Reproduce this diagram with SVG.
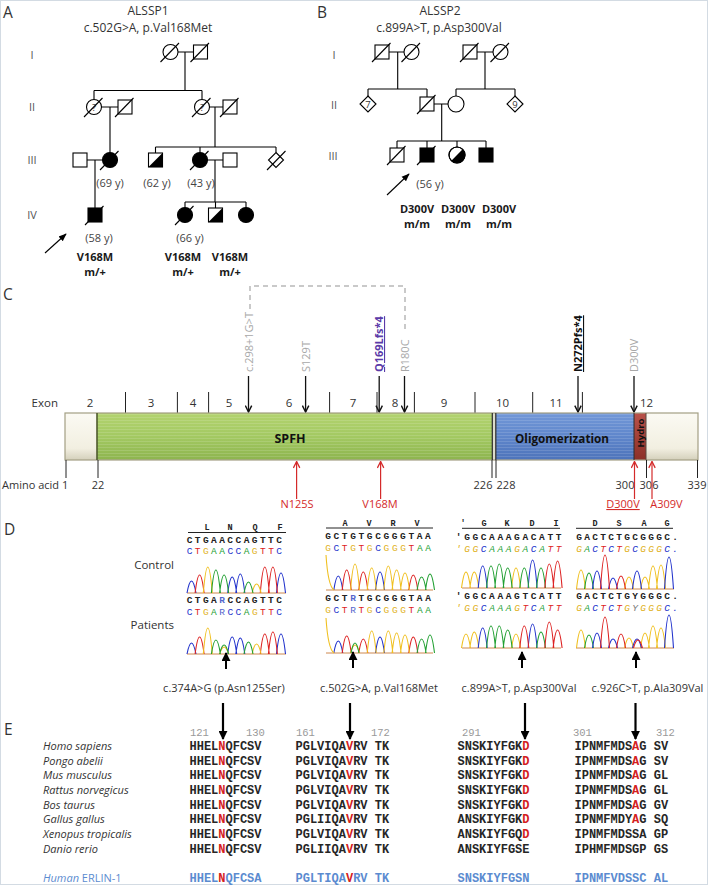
<svg xmlns="http://www.w3.org/2000/svg" width="708" height="885" viewBox="0 0 708 885">
<defs>
<style>
.t{font-family:'Open Sans','DejaVu Sans',sans-serif;fill:#333}
.pl{font-size:15.5px;fill:#333}
.ttl{font-size:12px;text-anchor:middle;fill:#333}
.gen{font-size:11px;fill:#555;text-anchor:middle}
.age{font-size:11px;fill:#444;text-anchor:middle}
.gt{font-size:11px;font-weight:bold;fill:#1a1a1a;text-anchor:middle}
.s{fill:#fff;stroke:#000;stroke-width:1.1}
.f{fill:#000;stroke:#000;stroke-width:1.1}
.l{stroke:#000;stroke-width:1.1;fill:none}
.in{font-size:9.5px;text-anchor:middle;fill:#333}
.ex{font-size:11.5px;text-anchor:middle;fill:#333}
.aa{font-size:11px;text-anchor:middle;fill:#333}
.tick{stroke:#222;stroke-width:1}
.gl{font-size:11px;fill:#a8a8a8}
.rl{font-size:11px;fill:#d42a2a;text-anchor:middle}
.ra{stroke:#d42a2a;stroke-width:1.2;fill:none}
.ba{stroke:#111;stroke-width:1.3;fill:none}
.sq{font-family:'Liberation Mono','DejaVu Sans Mono',monospace;font-weight:bold;font-size:9.5px;fill:#222}
.hd{font-family:'Liberation Mono','DejaVu Sans Mono',monospace;font-weight:bold;font-size:8.5px;fill:#222;text-anchor:middle}
.b{fill:#2233cc}.r{fill:#dd2222}.y{fill:#e0b020}.g{fill:#22a033}.m{fill:#5566cc}.k{fill:#777}
.pb{stroke:#2233cc}.pr{stroke:#dd2222}.py{stroke:#f0c020}.pg{stroke:#22a033}
.pk{fill:none;stroke-width:1.1}
.bl{stroke:#c87a3a;stroke-width:0.9}
.hl{stroke:#222;stroke-width:1}
.cap{font-size:11px;text-anchor:middle;fill:#333}
.sp{font-size:11px;font-style:italic;fill:#333}
.al{font-family:'Liberation Mono','DejaVu Sans Mono',monospace;font-weight:bold;font-size:12px;fill:#262626}
.num{font-family:'Liberation Mono','DejaVu Sans Mono',monospace;font-size:10.5px;fill:#999}
.red{fill:#d42020}
.blu{fill:#5b8bd0}
</style>
<marker id="mP" viewBox="0 0 10 10" refX="9" refY="5" markerWidth="8" markerHeight="8" markerUnits="userSpaceOnUse" orient="auto"><path d="M0,1 L10,5 L0,9 z" fill="#000"/></marker>
<marker id="mA" viewBox="0 0 10 10" refX="9" refY="5" markerWidth="8" markerHeight="8" markerUnits="userSpaceOnUse" orient="auto"><path d="M1,1 L9,5 L1,9" fill="none" stroke="#111" stroke-width="1.8"/></marker>
<marker id="mR" viewBox="0 0 10 10" refX="9" refY="5" markerWidth="8" markerHeight="8" markerUnits="userSpaceOnUse" orient="auto"><path d="M1,1 L9,5 L1,9" fill="none" stroke="#d42a2a" stroke-width="1.6"/></marker>
<marker id="mB" viewBox="0 0 10 10" refX="9" refY="5" markerWidth="9" markerHeight="9" markerUnits="userSpaceOnUse" orient="auto"><path d="M0,0 L10,5 L0,10 z" fill="#000"/></marker>
<linearGradient id="gw" x1="0" y1="0" x2="0" y2="1"><stop offset="0" stop-color="#fbfaf3"/><stop offset="0.75" stop-color="#f2efe1"/><stop offset="1" stop-color="#d4d0bb"/></linearGradient>
<linearGradient id="gg" x1="0" y1="0" x2="0" y2="1"><stop offset="0" stop-color="#b3d36f"/><stop offset="0.5" stop-color="#a3c962"/><stop offset="1" stop-color="#8db44e"/></linearGradient>
<linearGradient id="gb" x1="0" y1="0" x2="0" y2="1"><stop offset="0" stop-color="#7298d8"/><stop offset="0.5" stop-color="#5f86cb"/><stop offset="1" stop-color="#4d73ba"/></linearGradient>
<linearGradient id="gh" x1="0" y1="0" x2="0" y2="1"><stop offset="0" stop-color="#b9524a"/><stop offset="1" stop-color="#8c3028"/></linearGradient>
<pattern id="st" width="4" height="3" patternUnits="userSpaceOnUse"><rect width="4" height="1" fill="#ffffff" fill-opacity="0.13"/></pattern>
</defs>

<rect x="0" y="0" width="708" height="885" fill="#fff"/>
<rect x="0.5" y="0.5" width="707" height="884" fill="none" stroke="#d3dbe3"/>

<!-- Panel labels -->
<g class="t">
<text class="pl" x="3" y="18">A</text>
<text class="pl" x="317" y="18">B</text>
<text class="pl" x="3" y="300">C</text>
<text class="pl" x="4" y="535">D</text>
<text class="pl" x="4" y="735">E</text>
</g>

<!-- ===== Panel A ===== -->
<g id="panelA-text" class="t">
<text class="ttl" x="148" y="15">ALSSP1</text>
<text class="ttl" x="148" y="31.5">c.502G&gt;A, p.Val168Met</text>
<text class="gen" x="32" y="59">I</text>
<text class="gen" x="32" y="111">II</text>
<text class="gen" x="32" y="164">III</text>
<text class="gen" x="32" y="219">IV</text>
<text class="age" x="110" y="187">(69 y)</text>
<text class="age" x="157" y="187">(62 y)</text>
<text class="age" x="201" y="187">(43 y)</text>
<text class="age" x="99" y="242">(58 y)</text>
<text class="age" x="190" y="242">(66 y)</text>
<text class="gt" x="95" y="261">V168M</text>
<text class="gt" x="95" y="276">m/+</text>
<text class="gt" x="183" y="261">V168M</text>
<text class="gt" x="183" y="276">m/+</text>
<text class="gt" x="230" y="261">V168M</text>
<text class="gt" x="230" y="276">m/+</text>
</g>
<g id="connectorsA" class="l">
<path d="M178,52 H193.5 M185,52 V90.5 M94,90.5 H202 M94,90.5 V99.5 M202,90.5 V99.5"/>
<path d="M101.5,107 H118 M110,107 V152.5 M209.5,107 H223 M215,107 V147"/>
<path d="M155.5,147 H276 M155.5,147 V153 M200,147 V152.5 M276,147 V152.5"/>
<path d="M87,160 H102.5 M95,160 V208 M207.5,160 H223 M215,160 V202"/>
<path d="M185,202 H246 M185,202 V207.5 M215.5,202 V208 M246,202 V207.5"/>
<line x1="45" y1="253" x2="66" y2="234" stroke="#000" stroke-width="1.1" marker-end="url(#mP)"/>
</g>
<g id="A-I1"><circle class="s" cx="170.5" cy="52" r="7.5"/><line class="l" x1="160.5" y1="62" x2="179" y2="43"/></g>
<g id="A-I2"><rect class="s" x="193.5" y="45" width="14" height="14"/><line class="l" x1="190.5" y1="62" x2="209" y2="43"/></g>
<g id="A-II1"><circle class="s" cx="94" cy="107" r="7.5"/><text class="t in" x="94" y="110.5">?</text><line class="l" x1="84" y1="117" x2="102.5" y2="98"/></g>
<g id="A-II2"><rect class="s" x="118" y="100" width="14" height="14"/><line class="l" x1="115" y1="117" x2="133.5" y2="98"/></g>
<g id="A-II3"><circle class="s" cx="202" cy="107" r="7.5"/><text class="t in" x="202" y="110.5">?</text><line class="l" x1="192" y1="117" x2="210.5" y2="98"/></g>
<g id="A-II4"><rect class="s" x="223" y="100" width="14" height="14"/><line class="l" x1="220" y1="117" x2="238.5" y2="98"/></g>
<g id="A-III1"><rect class="s" x="73" y="153" width="14" height="14"/></g>
<g id="A-III2"><circle class="f" cx="110" cy="160" r="7.5"/><line class="l" x1="100" y1="170" x2="118.5" y2="151"/></g>
<g id="A-III3"><rect class="s" x="148.5" y="153" width="14" height="14"/><path d="M162.5,153 L162.5,167 L148.5,167 Z" fill="#000"/></g>
<g id="A-III4"><circle class="f" cx="200" cy="160" r="7.5"/><line class="l" x1="190" y1="170" x2="208.5" y2="151"/></g>
<g id="A-III5"><rect class="s" x="223" y="153" width="14" height="14"/></g>
<g id="A-III6"><path class="s" d="M276,152.5 L283.5,160 L276,167.5 L268.5,160 Z"/><line class="l" x1="267" y1="170" x2="285.5" y2="151"/></g>
<g id="A-IV1"><rect class="f" x="88" y="208" width="14" height="14"/><line class="l" x1="85" y1="225" x2="103.5" y2="206"/></g>
<g id="A-IV2"><circle class="f" cx="185" cy="215" r="7.5"/><line class="l" x1="175" y1="225" x2="193.5" y2="206"/></g>
<g id="A-IV3"><rect class="s" x="208.5" y="208" width="14" height="14"/><path d="M222.5,208 L222.5,222 L208.5,222 Z" fill="#000"/></g>
<g id="A-IV4"><circle class="f" cx="246" cy="215" r="7.5"/></g>

<!-- ===== Panel B ===== -->
<g id="panelB-text" class="t">
<text class="ttl" x="440" y="15">ALSSP2</text>
<text class="ttl" x="439" y="31.5">c.899A&gt;T, p.Asp300Val</text>
<text class="gen" x="334" y="59">I</text>
<text class="gen" x="334" y="109">II</text>
<text class="gen" x="333" y="160">III</text>
<text class="age" x="430" y="188">(56 y)</text>
<text class="gt" x="417" y="213">D300V</text>
<text class="gt" x="417" y="228">m/m</text>
<text class="gt" x="458" y="213">D300V</text>
<text class="gt" x="458" y="228">m/m</text>
<text class="gt" x="499" y="213">D300V</text>
<text class="gt" x="499" y="228">m/m</text>
</g>
<g id="connectorsB" class="l">
<path d="M389,52 H404 M397.7,52 V89 M368,89 H427 M368,89 V96 M427,89 V97"/>
<path d="M477,52 H493 M485,52 V89 M456,89 H515 M456,89 V96 M515,89 V96"/>
<path d="M434,104 H448 M441.7,104 V141 M397,141 H486 M397,141 V148 M427,141 V148 M457,141 V147 M486,141 V148"/>
<line x1="387" y1="195" x2="409" y2="174" stroke="#000" stroke-width="1.1" marker-end="url(#mP)"/>
</g>
<g id="B-I1"><rect class="s" x="375" y="45" width="14" height="14"/><line class="l" x1="372" y1="62" x2="390.5" y2="43"/></g>
<g id="B-I2"><circle class="s" cx="411.5" cy="52" r="7.5"/><line class="l" x1="401.5" y1="62" x2="420" y2="43"/></g>
<g id="B-I3"><rect class="s" x="463" y="45" width="14" height="14"/><line class="l" x1="460" y1="62" x2="478.5" y2="43"/></g>
<g id="B-I4"><circle class="s" cx="500.5" cy="52" r="7.5"/><line class="l" x1="490.5" y1="62" x2="509" y2="43"/></g>
<g id="B-II1"><path class="s" d="M368,96 L376,104 L368,112 L360,104 Z"/><text class="t in" x="368" y="107.5">7</text></g>
<g id="B-II2"><rect class="s" x="420" y="97" width="14" height="14"/><line class="l" x1="417" y1="114" x2="435.5" y2="95"/></g>
<g id="B-II3"><circle class="s" cx="456" cy="104" r="8"/></g>
<g id="B-II4"><path class="s" d="M515,96 L523,104 L515,112 L507,104 Z"/><text class="t in" x="515" y="107.5">9</text></g>
<g id="B-III1"><rect class="s" x="390" y="148" width="14" height="14"/><line class="l" x1="387" y1="165" x2="405.5" y2="146"/></g>
<g id="B-III2"><rect class="f" x="420" y="148" width="14" height="14"/><line class="l" x1="417" y1="165" x2="435.5" y2="146"/></g>
<g id="B-III3"><circle class="s" cx="457" cy="155" r="8"/><path d="M451.34,160.66 A8,8 0 0 0 462.66,149.34 Z" fill="#000"/><circle cx="457" cy="155" r="8" fill="none" stroke="#000" stroke-width="1.1"/></g>
<g id="B-III4"><rect class="f" x="479" y="148" width="14" height="14"/></g>

<!-- ===== Panel C ===== -->
<g id="panelC-dashed"><path d="M250,309 V286 H405 V333" fill="none" stroke="#b8b8b8" stroke-width="1.5" stroke-dasharray="5 4"/></g>
<g id="panelC-toplabels" class="t">
<text class="gl" transform="translate(252.5,372) rotate(-90)">c.298+1G&gt;T</text>
<text class="gl" transform="translate(309.6,372) rotate(-90)">S129T</text>
<text class="gl" transform="translate(383,372) rotate(-90)" style="fill:#5b3aa8;font-weight:bold;text-decoration:underline">Q169Lfs*4</text>
<text class="gl" transform="translate(408.5,372) rotate(-90)">R180C</text>
<text class="gl" transform="translate(582,372) rotate(-90)" style="fill:#111;font-weight:bold;text-decoration:underline">N272Pfs*4</text>
<text class="gl" transform="translate(638,372) rotate(-90)">D300V</text>
</g>
<g id="panelC-arrows-top" class="ba">
<line x1="248.5" y1="376" x2="248.5" y2="412" marker-end="url(#mA)"/>
<line x1="305.6" y1="376" x2="305.6" y2="412" marker-end="url(#mA)"/>
<line x1="379.2" y1="376" x2="379.2" y2="412" marker-end="url(#mA)"/>
<line x1="404.5" y1="376" x2="404.5" y2="412" marker-end="url(#mA)"/>
<line x1="578" y1="376" x2="578" y2="412" marker-end="url(#mA)"/>
<line x1="634" y1="376" x2="634" y2="412" marker-end="url(#mA)"/>
</g>
<g id="exon-row" class="t">
<text x="31.6" y="407" style="font-size:11.5px;fill:#333">Exon</text>
<text class="ex" x="90" y="407">2</text>
<text class="ex" x="151" y="407">3</text>
<text class="ex" x="193" y="407">4</text>
<text class="ex" x="229" y="407">5</text>
<text class="ex" x="289" y="407">6</text>
<text class="ex" x="353" y="407">7</text>
<text class="ex" x="395" y="407">8</text>
<text class="ex" x="444" y="407">9</text>
<text class="ex" x="502.5" y="407">10</text>
<text class="ex" x="556" y="407">11</text>
<text class="ex" x="646.5" y="407">12</text>
<path class="tick" d="M125.5,392 V413 M177.4,392 V413 M208.6,392 V413 M329.6,392 V413 M377,392 V413 M414.4,392 V413 M475,392 V413 M532.7,392 V413 M582.4,392 V413"/>
</g>
<g id="protein">
<rect x="65" y="413" width="32" height="47" fill="url(#gw)"/>
<rect x="97" y="413" width="395" height="47" fill="url(#gg)"/>
<rect x="97" y="413" width="395" height="47" fill="url(#st)"/>
<rect x="492" y="413" width="4" height="47" fill="#dcdccc"/>
<rect x="496" y="413" width="138" height="47" fill="url(#gb)"/>
<rect x="496" y="413" width="138" height="47" fill="url(#st)"/>
<rect x="634" y="413" width="12" height="47" fill="url(#gh)"/>
<rect x="646" y="413" width="52" height="47" fill="url(#gw)"/>
<rect x="65" y="413" width="633" height="47" fill="none" stroke="#a39f84" stroke-width="1.2"/>
<path d="M97,413 V460" stroke="#4f5a2e" stroke-width="1.6"/>
<path d="M492.3,413 V460 M495.8,413 V460" stroke="#2c2c2c" stroke-width="1.2"/>
<path d="M634,413 V460" stroke="#2c2c2c" stroke-width="1"/>
<path d="M646,413 V460" stroke="#5a4a40" stroke-width="1"/>
<text class="t" x="290" y="443" style="font-size:12.5px;font-weight:bold;fill:#111;text-anchor:middle">SPFH</text>
<text class="t" x="515" y="443" textLength="94" lengthAdjust="spacingAndGlyphs" style="font-size:12px;font-weight:bold;fill:#111">Oligomerization</text>
<text class="t" transform="translate(643.5,433) rotate(-90)" style="font-size:9.5px;font-weight:bold;fill:#111;text-anchor:middle">Hydro</text>
</g>
<g id="aa-row" class="t">
<path class="tick" d="M66,460 V478 M98,460 V478 M492,460 V478 M496,460 V478 M646.5,460 V478 M697.5,460 V478"/>
<text x="2" y="489" style="font-size:11px;fill:#333">Amino acid 1</text>
<text class="aa" x="98" y="489">22</text>
<text class="aa" x="483" y="489">226</text>
<text class="aa" x="506" y="489">228</text>
<text class="aa" x="625" y="489">300</text>
<text class="aa" x="649" y="489">306</text>
<text class="aa" x="697" y="489">339</text>
</g>
<g id="panelC-arrows-bottom" class="ra">
<line x1="296.6" y1="499" x2="296.6" y2="461.5" marker-end="url(#mR)"/>
<line x1="380.6" y1="499" x2="380.6" y2="461.5" marker-end="url(#mR)"/>
<line x1="634.5" y1="499" x2="634.5" y2="461.5" marker-end="url(#mR)"/>
<line x1="652" y1="499" x2="652" y2="461.5" marker-end="url(#mR)"/>
</g>
<g id="panelC-redlabels" class="t">
<text class="rl" x="297" y="508">N125S</text>
<text class="rl" x="380" y="508">V168M</text>
<text class="rl" x="623" y="508" style="text-decoration:underline">D300V</text>
<text class="rl" x="666.5" y="508">A309V</text>
</g>

<!-- ===== Panel D ===== -->
<g id="panelD-labels" class="t">
<text x="174" y="569" style="font-size:11.5px;text-anchor:end;fill:#333">Control</text>
<text x="174" y="629" style="font-size:11.5px;text-anchor:end;fill:#333">Patients</text>
<text class="cap" x="224" y="692">c.374A&gt;G (p.Asn125Ser)</text>
<text class="cap" x="379" y="692">c.502G&gt;A, p.Val168Met</text>
<text class="cap" x="519" y="692">c.899A&gt;T, p.Asp300Val</text>
<text class="cap" x="647.5" y="692">c.926C&gt;T, p.Ala309Val</text>
</g>

<g id="chrom1">
<line class="hl" x1="188" y1="532.5" x2="286" y2="532.5"/>
<text class="hd" x="207" y="530">L</text><text class="hd" x="230" y="530">N</text><text class="hd" x="255" y="530">Q</text><text class="hd" x="280" y="530">F</text>
<text class="sq" x="186.65" y="543" style="letter-spacing:2.44px">CTGAACCAGTTC</text>
<text class="sq" x="186.65" y="554" style="letter-spacing:2.44px;font-weight:normal"><tspan class="b">C</tspan><tspan class="r">T</tspan><tspan class="y">G</tspan><tspan class="g">AA</tspan><tspan class="b">CC</tspan><tspan class="g">A</tspan><tspan class="y">G</tspan><tspan class="r">TT</tspan><tspan class="b">C</tspan></text>
<line class="bl" x1="187" y1="593" x2="286" y2="593"/>
<path class="pk pb" d="M187,593 Q191.5,569 196,593 M227.7,593 Q232.2,561 236.7,593 M235.8,593 Q240.3,555 244.8,593 M276.5,593 Q281,553 285.5,593"/>
<path class="pk pr" d="M195.1,593 Q199.6,557 204.1,593 M260.3,593 Q264.8,541 269.3,593 M268.4,593 Q272.9,541 277.4,593"/>
<path class="pk py" d="M203.3,593 Q207.8,541 212.3,593 M252.1,593 Q256.6,575 261.1,593"/>
<path class="pk pg" d="M211.4,593 Q215.9,547 220.4,593 M219.6,593 Q224.1,557 228.6,593 M244,593 Q248.5,571 253,593"/>
<text class="sq" x="186.65" y="603" style="letter-spacing:2.44px">CTGA<tspan class="m">R</tspan>CCAGTTC</text>
<text class="sq" x="186.65" y="615" style="letter-spacing:2.44px;font-weight:normal"><tspan class="b">C</tspan><tspan class="r">T</tspan><tspan class="y">G</tspan><tspan class="g">A</tspan><tspan class="m">R</tspan><tspan class="b">CC</tspan><tspan class="g">A</tspan><tspan class="y">G</tspan><tspan class="r">TT</tspan><tspan class="b">C</tspan></text>
<line class="bl" x1="187" y1="654" x2="286" y2="654"/>
<path class="pk pb" d="M187,654 Q191.5,632 196,654 M227.7,654 Q232.2,620 236.7,654 M235.8,654 Q240.3,622 244.8,654 M276.5,654 Q281,614 285.5,654"/>
<path class="pk pr" d="M195.1,654 Q199.6,620 204.1,654 M260.3,654 Q264.8,614 269.3,654 M268.4,654 Q272.9,610 277.4,654"/>
<path class="pk py" d="M203.3,654 Q207.8,602 212.3,654 M219.6,654 Q224.1,640 228.6,654 M252.1,654 Q256.6,634 261.1,654"/>
<path class="pk pg" d="M211.4,654 Q215.9,626 220.4,654 M219.6,654 Q224.1,636 228.6,654 M244,654 Q248.5,630 253,654"/>
<line x1="226" y1="669" x2="226" y2="653" stroke="#000" stroke-width="2" marker-end="url(#mB)"/>
</g>

<g id="chrom2">
<line class="hl" x1="326" y1="528" x2="433" y2="528"/>
<text class="hd" x="345" y="526">A</text><text class="hd" x="369" y="526">V</text><text class="hd" x="393" y="526">R</text><text class="hd" x="417" y="526">V</text>
<text class="sq" x="325.15" y="539" style="letter-spacing:2.63px">GCTGTGCGGGTAA</text>
<text class="sq" x="325.15" y="551" style="letter-spacing:2.63px;font-weight:normal"><tspan class="y">G</tspan><tspan class="b">C</tspan><tspan class="r">T</tspan><tspan class="y">G</tspan><tspan class="r">T</tspan><tspan class="y">G</tspan><tspan class="b">C</tspan><tspan class="y">GGG</tspan><tspan class="r">T</tspan><tspan class="g">AA</tspan></text>
<line class="bl" x1="326" y1="590" x2="433" y2="590"/>
<path class="pk pb" d="M333.8,590 Q338.3,562 342.8,590 M375.5,590 Q380,554 384.5,590"/>
<path class="pk pr" d="M342.2,590 Q346.7,550 351.2,590 M358.8,590 Q363.3,554 367.8,590 M408.8,590 Q413.3,560 417.8,590"/>
<path class="pk py" d="M326,555 Q328,586 334,590 M350.5,590 Q355,538 359.5,590 M367.2,590 Q371.7,546 376.2,590 M383.8,590 Q388.3,542 392.8,590 M392.1,590 Q396.6,550 401.1,590 M400.5,590 Q405,556 409.5,590"/>
<path class="pk pg" d="M417.1,590 Q421.6,564 426.1,590 M425.5,590 Q430,558 434.5,590"/>
<text class="sq" x="325.15" y="601" style="letter-spacing:2.63px">GCT<tspan class="m">R</tspan>TGCGGGTAA</text>
<text class="sq" x="325.15" y="613" style="letter-spacing:2.63px;font-weight:normal"><tspan class="y">G</tspan><tspan class="b">C</tspan><tspan class="r">T</tspan><tspan class="m">R</tspan><tspan class="r">T</tspan><tspan class="y">G</tspan><tspan class="b">C</tspan><tspan class="y">GGG</tspan><tspan class="r">T</tspan><tspan class="g">AA</tspan></text>
<line class="bl" x1="326" y1="653" x2="433" y2="653"/>
<path class="pk pb" d="M333.8,653 Q338.3,629 342.8,653 M375.5,653 Q380,621 384.5,653"/>
<path class="pk pr" d="M342.2,653 Q346.7,619 351.2,653 M358.8,653 Q363.3,625 367.8,653 M408.8,653 Q413.3,621 417.8,653"/>
<path class="pk py" d="M326,618 Q328,649 334,653 M350.5,653 Q355,637 359.5,653 M367.2,653 Q371.7,609 376.2,653 M383.8,653 Q388.3,609 392.8,653 M392.1,653 Q396.6,613 401.1,653 M400.5,653 Q405,617 409.5,653"/>
<path class="pk pg" d="M351,653 Q355,633 359,653 M417.1,653 Q421.6,625 426.1,653 M425.5,653 Q430,617 434.5,653"/>
<line x1="353" y1="668" x2="353" y2="652" stroke="#000" stroke-width="2" marker-end="url(#mB)"/>
</g>

<g id="chrom3">
<line class="hl" x1="462" y1="528.3" x2="560" y2="528.3"/>
<text class="hd" x="463" y="526">'</text><text class="hd" x="484" y="526">G</text><text class="hd" x="507" y="526">K</text><text class="hd" x="532" y="526">D</text><text class="hd" x="556" y="526">I</text>
<text class="sq" x="455.8" y="539.5" style="letter-spacing:2.63px">'GGCAAAGACATT</text>
<text class="sq" x="455.8" y="551.5" style="letter-spacing:2.63px;font-weight:normal;font-style:italic"><tspan class="y">'GG</tspan><tspan class="b">C</tspan><tspan class="g">AAA</tspan><tspan class="y">G</tspan><tspan class="g">A</tspan><tspan class="b">C</tspan><tspan class="g">A</tspan><tspan class="r">TT</tspan></text>
<line class="bl" x1="462" y1="588" x2="561" y2="588"/>
<path class="pk py" d="M461.5,588 Q466,556 470.5,588 M469.8,588 Q474.3,556 478.8,588 M511.5,588 Q516,548 520.5,588"/>
<path class="pk pb" d="M478.2,588 Q482.7,544 487.2,588 M528.1,588 Q532.6,532 537.1,588"/>
<path class="pk pg" d="M486.5,588 Q491,544 495.5,588 M494.8,588 Q499.3,540 503.8,588 M503.2,588 Q507.7,548 512.2,588 M519.8,588 Q524.3,548 528.8,588 M536.5,588 Q541,548 545.5,588"/>
<path class="pk pr" d="M544.8,588 Q549.3,540 553.8,588 M553.1,588 Q557.6,534 562.1,588"/>
<text class="sq" x="455.8" y="599" style="letter-spacing:2.63px">'GGCAAAGTCATT</text>
<text class="sq" x="455.8" y="611" style="letter-spacing:2.63px;font-weight:normal;font-style:italic"><tspan class="y">'GG</tspan><tspan class="b">C</tspan><tspan class="g">AAA</tspan><tspan class="y">G</tspan><tspan class="r">T</tspan><tspan class="b">C</tspan><tspan class="g">A</tspan><tspan class="r">TT</tspan></text>
<line class="bl" x1="462" y1="648" x2="561" y2="648"/>
<path class="pk py" d="M461.5,648 Q466,620 470.5,648 M469.8,648 Q474.3,616 478.8,648 M511.5,648 Q516,620 520.5,648"/>
<path class="pk pb" d="M478.2,648 Q482.7,608 487.2,648 M528.1,648 Q532.6,600 537.1,648"/>
<path class="pk pg" d="M486.5,648 Q491,604 495.5,648 M494.8,648 Q499.3,604 503.8,648 M503.2,648 Q507.7,612 512.2,648 M536.5,648 Q541,616 545.5,648"/>
<path class="pk pr" d="M519.8,648 Q524.3,604 528.8,648 M544.8,648 Q549.3,596 553.8,648 M553.1,648 Q557.6,612 562.1,648"/>
<line x1="522" y1="668" x2="522" y2="652" stroke="#000" stroke-width="2" marker-end="url(#mB)"/>
</g>

<g id="chrom4">
<line class="hl" x1="576" y1="528.3" x2="673" y2="528.3"/>
<text class="hd" x="595" y="526">D</text><text class="hd" x="619" y="526">S</text><text class="hd" x="644" y="526">A</text><text class="hd" x="667" y="526">G</text>
<text class="sq" x="576.15" y="539.5" style="letter-spacing:2.3px">GACTCTGCGGGC.</text>
<text class="sq" x="576.15" y="551.5" style="letter-spacing:2.3px;font-weight:normal;font-style:italic"><tspan class="y">G</tspan><tspan class="g">A</tspan><tspan class="b">C</tspan><tspan class="r">T</tspan><tspan class="b">C</tspan><tspan class="r">T</tspan><tspan class="y">G</tspan><tspan class="b">C</tspan><tspan class="y">GGG</tspan><tspan class="b">C.</tspan></text>
<line class="bl" x1="576" y1="589" x2="674" y2="589"/>
<path class="pk py" d="M576.5,589 Q581,551 585.5,589 M624.5,589 Q629,565 633.5,589 M640.5,589 Q645,565 649.5,589 M648.5,589 Q653,543 657.5,589 M656.5,589 Q661,541 665.5,589"/>
<path class="pk pg" d="M584.5,589 Q589,557 593.5,589"/>
<path class="pk pb" d="M592.5,589 Q597,553 601.5,589 M608.5,589 Q613,567 617.5,589 M632.5,589 Q637,553 641.5,589 M664.5,589 Q669,525 673.5,589"/>
<path class="pk pr" d="M600.5,589 Q605,521 609.5,589 M616.5,589 Q621,563 625.5,589"/>
<text class="sq" x="576.15" y="599" style="letter-spacing:2.3px">GACTCTGYGGGC.</text>
<text class="sq" x="576.15" y="611" style="letter-spacing:2.3px;font-weight:normal;font-style:italic"><tspan class="y">G</tspan><tspan class="g">A</tspan><tspan class="b">C</tspan><tspan class="r">T</tspan><tspan class="b">C</tspan><tspan class="r">T</tspan><tspan class="y">G</tspan><tspan class="k">Y</tspan><tspan class="y">GGG</tspan><tspan class="b">C.</tspan></text>
<line class="bl" x1="576" y1="648" x2="674" y2="648"/>
<path class="pk py" d="M576.5,648 Q581,612 585.5,648 M624.5,648 Q629,628 633.5,648 M640.5,648 Q645,618 649.5,648 M648.5,648 Q653,604 657.5,648 M656.5,648 Q661,608 665.5,648"/>
<path class="pk pg" d="M584.5,648 Q589,622 593.5,648"/>
<path class="pk pb" d="M592.5,648 Q597,618 601.5,648 M608.5,648 Q613,630 617.5,648 M632.5,648 Q637,630 641.5,648 M664.5,648 Q669,582 673.5,648"/>
<path class="pk pr" d="M600.5,648 Q605,586 609.5,648 M616.5,648 Q621,620 625.5,648 M633.5,648 Q638,632 642.5,648"/>
<line x1="636" y1="668" x2="636" y2="652" stroke="#000" stroke-width="2" marker-end="url(#mB)"/>
</g>

<!-- ===== Panel E ===== -->
<g id="panelE-arrows">
<line x1="223" y1="703" x2="223" y2="739" stroke="#000" stroke-width="2.2" marker-end="url(#mB)"/>
<line x1="350" y1="703" x2="350" y2="739" stroke="#000" stroke-width="2.2" marker-end="url(#mB)"/>
<line x1="525" y1="703" x2="525" y2="739" stroke="#000" stroke-width="2.2" marker-end="url(#mB)"/>
<line x1="635.5" y1="703" x2="635.5" y2="739" stroke="#000" stroke-width="2.2" marker-end="url(#mB)"/>
</g>
<g id="panelE-numbers">
<text class="num" x="190" y="736">121</text>
<text class="num" x="246" y="736">130</text>
<text class="num" x="296" y="736">161</text>
<text class="num" x="371" y="736">172</text>
<text class="num" x="462" y="736">291</text>
<text class="num" x="573" y="736">301</text>
<text class="num" x="656" y="736">312</text>
</g>
<g id="panelE-species" class="t">
<text class="sp" x="43" y="750">Homo sapiens</text>
<text class="sp" x="43" y="764.7">Pongo abelii</text>
<text class="sp" x="43" y="779.3">Mus musculus</text>
<text class="sp" x="43" y="794">Rattus norvegicus</text>
<text class="sp" x="43" y="808.7">Bos taurus</text>
<text class="sp" x="43" y="823.3">Gallus gallus</text>
<text class="sp" x="43" y="838">Xenopus tropicalis</text>
<text class="sp" x="43" y="852.7">Danio rerio</text>
<text x="43" y="882" style="font-size:11px;fill:#5b8bd0"><tspan font-style="italic">Human</tspan> ERLIN-1</text>
</g>
<g id="panelE-col1" class="al">
<text x="189.5" y="750">HHEL<tspan class="red">N</tspan>QFCSV</text>
<text x="189.5" y="764.7">HHEL<tspan class="red">N</tspan>QFCSV</text>
<text x="189.5" y="779.3">HHEL<tspan class="red">N</tspan>QFCSV</text>
<text x="189.5" y="794">HHEL<tspan class="red">N</tspan>QFCSV</text>
<text x="189.5" y="808.7">HHEL<tspan class="red">N</tspan>QFCSV</text>
<text x="189.5" y="823.3">HHEL<tspan class="red">N</tspan>QFCSV</text>
<text x="189.5" y="838">HHEL<tspan class="red">N</tspan>QFCSV</text>
<text x="189.5" y="852.7">HHEL<tspan class="red">N</tspan>QFCSV</text>
<text x="189.5" y="882" class="blu">HHEL<tspan class="red">N</tspan>QFCSA</text>
</g>
<g id="panelE-col2" class="al">
<text x="295.5" y="750">PGLVIQA<tspan class="red">V</tspan>RV TK</text>
<text x="295.5" y="764.7">PGLVIQA<tspan class="red">V</tspan>RV TK</text>
<text x="295.5" y="779.3">PGLVIQA<tspan class="red">V</tspan>RV TK</text>
<text x="295.5" y="794">PGLVIQA<tspan class="red">V</tspan>RV TK</text>
<text x="295.5" y="808.7">PGLVIQA<tspan class="red">V</tspan>RV TK</text>
<text x="295.5" y="823.3">PGLIIQA<tspan class="red">V</tspan>RV TK</text>
<text x="295.5" y="838">PGLVIQA<tspan class="red">V</tspan>RV TK</text>
<text x="295.5" y="852.7">PGLIIQA<tspan class="red">V</tspan>RV TK</text>
<text x="295.5" y="882" class="blu">PGLTIQA<tspan class="red">V</tspan>RV TK</text>
</g>
<g id="panelE-col3" class="al">
<text x="457.5" y="750">SNSKIYFGK<tspan class="red">D</tspan></text>
<text x="457.5" y="764.7">SNSKIYFGK<tspan class="red">D</tspan></text>
<text x="457.5" y="779.3">SNSKIYFGK<tspan class="red">D</tspan></text>
<text x="457.5" y="794">SNSKIYFGK<tspan class="red">D</tspan></text>
<text x="457.5" y="808.7">SNSKIYFGK<tspan class="red">D</tspan></text>
<text x="457.5" y="823.3">ANSKIYFGK<tspan class="red">D</tspan></text>
<text x="457.5" y="838">ANSKIYFGQ<tspan class="red">D</tspan></text>
<text x="457.5" y="852.7">ANSKIYFGSE</text>
<text x="457.5" y="882" class="blu">SNSKIYFGSN</text>
</g>
<g id="panelE-col4" class="al">
<text x="574.5" y="750">IPNMFMDS<tspan class="red">A</tspan>G SV</text>
<text x="574.5" y="764.7">IPNMFMDS<tspan class="red">A</tspan>G SV</text>
<text x="574.5" y="779.3">IPNMFMDS<tspan class="red">A</tspan>G GL</text>
<text x="574.5" y="794">IPNMFMDS<tspan class="red">A</tspan>G GL</text>
<text x="574.5" y="808.7">IPNMFMDS<tspan class="red">A</tspan>G GV</text>
<text x="574.5" y="823.3">IPNMFMDY<tspan class="red">A</tspan>G SQ</text>
<text x="574.5" y="838">IPNMFMDSSA GP</text>
<text x="574.5" y="852.7">IPHMFMDSGP GS</text>
<text x="574.5" y="882" class="blu">IPNMFVDSSC AL</text>
</g>
</svg>
